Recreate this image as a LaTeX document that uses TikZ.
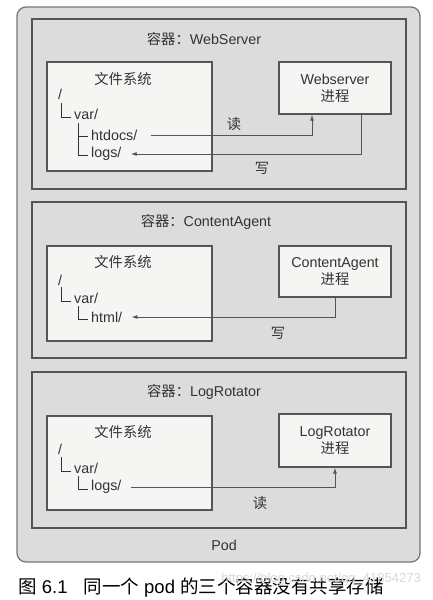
\documentclass[tikz,border=0pt]{standalone}
\usepackage{fontspec}
\setmainfont{Liberation Sans}
\newfontfamily\cjkf{Noto Sans CJK SC}
\newcommand{\cjk}[1]{{\cjkf #1}}
\usetikzlibrary{arrows.meta}
\definecolor{podbg}{HTML}{DCDCDC}
\definecolor{boxbg}{HTML}{F5F5F3}
\definecolor{linec}{HTML}{555555}
\definecolor{txt}{HTML}{333333}
\tikzset{
  podbox/.style={draw=linec!80, line width=1.3pt, fill=podbg, rounded corners=9pt, minimum width=403pt, minimum height=555pt, inner sep=0pt},
  ctbox/.style={draw=linec, line width=1.3pt, fill=podbg, minimum width=374pt, inner sep=0pt},
  fsbox/.style={draw=linec, line width=1.1pt, fill=boxbg, minimum width=165pt, inner sep=0pt},
  prbox/.style={draw=linec, line width=1.1pt, fill=boxbg, minimum width=112pt, inner sep=0pt},
  lbl/.style={text=txt, font=\fontsize{14.3}{16}\selectfont, inner sep=0pt},
  tree/.style={text=txt, font=\fontsize{14.3}{16}\selectfont, inner sep=0pt, anchor=west},
  tl/.style={draw=txt, line width=0.9pt},
  conn/.style={draw=linec, line width=1pt},
  arr/.style={conn, -{Latex[length=6pt,width=4pt]}},
}
\begin{document}
\begin{tikzpicture}[x=1pt,y=-1pt]
\useasboundingbox (0,0) rectangle (432,600);
\fill[white] (0,0) rectangle (432,600);
% Pod
\node[podbox] (pod) at (218.5,284.5) {};
\node[lbl] (podl) at (224,545) {Pod};
% ===== Container 1
\node[ctbox, minimum height=170pt] (c1) at (219,104) {};
\node[lbl] (c1t) at (204,39) {\cjk{容器：}WebServer};
\node[fsbox, minimum height=109pt] (fs1) at (129.5,116.5) {};
\node[lbl] (fs1t) at (123,79) {\cjk{文件系统}};
\node[tree] (r1) at (58,94) {/};
\node[tree] (v1) at (74,114) {var/};
\node[tree] (h1) at (91,135) {htdocs/};
\node[tree] (l1) at (91,154) {logs/};
\draw[tl] (61,103) |- (71,117);
\draw[tl] (78,123) |- (88,155);
\draw[tl] (78,136) -- (88,136);
\node[prbox, minimum height=52pt] (p1) at (335,88) {};
\node[lbl, align=center] (p1t) at (335,88) {Webserver\\[1pt]\cjk{进程}};
\draw[arr] ([xshift=13pt]h1.east) -| ([xshift=-23pt]p1.south);
\draw[arr] ([xshift=26pt]p1.south) |- ([xshift=9pt]l1.east);
\node[lbl] (rd1) at (234,124) {\cjk{读}};
\node[lbl] (wr1) at (262,168) {\cjk{写}};
% ===== Container 2
\node[ctbox, minimum height=156pt] (c2) at (219,280) {};
\node[lbl] (c2t) at (206,222) {\cjk{容器：}ContentAgent};
\node[fsbox, minimum height=95pt] (fs2) at (129.5,293.5) {};
\node[lbl] (fs2t) at (123,262) {\cjk{文件系统}};
\node[tree] (r2) at (58,280) {/};
\node[tree] (v2) at (74,298) {var/};
\node[tree] (h2) at (91,317) {html/};
\draw[tl] (61,287) |- (71,301);
\draw[tl] (78,306) |- (88,319);
\node[prbox, minimum height=51pt] (p2) at (335,271.5) {};
\node[lbl, align=center] (p2t) at (335,271.5) {ContentAgent\\[1pt]\cjk{进程}};
\draw[arr] (p2.south) |- ([xshift=9pt]h2.east);
\node[lbl] (wr2) at (278,333) {\cjk{写}};
% ===== Container 3
\node[ctbox, minimum height=156pt] (c3) at (219,450) {};
\node[lbl] (c3t) at (204,392) {\cjk{容器：}LogRotator};
\node[fsbox, minimum height=94pt] (fs3) at (129.5,463) {};
\node[lbl] (fs3t) at (123,432) {\cjk{文件系统}};
\node[tree] (r3) at (58,449) {/};
\node[tree] (v3) at (74,468) {var/};
\node[tree] (h3) at (91,487) {logs/};
\draw[tl] (61,457) |- (71,471);
\draw[tl] (78,476) |- (88,489);
\node[prbox, minimum height=53pt] (p3) at (335,440.5) {};
\node[lbl, align=center] (p3t) at (335,440.5) {LogRotator\\[1pt]\cjk{进程}};
\draw[arr] ([xshift=9pt]h3.east) -| (p3.south);
\node[lbl] (rd3) at (260,503) {\cjk{读}};
% caption
\node[anchor=west, inner sep=0pt, font=\fontsize{18.5}{20}\selectfont] (cap) at (18,588) {\cjk{图} 6.1\hspace{16pt}\cjk{同一个} pod \cjk{的三个容器没有共享存储}};
\node[anchor=east, inner sep=0pt, text=black!15, font=\fontsize{13}{15}\selectfont] (wm) at (421,579) {https://blog.csdn.net/qq\_41854273};
\end{tikzpicture}
\end{document}
